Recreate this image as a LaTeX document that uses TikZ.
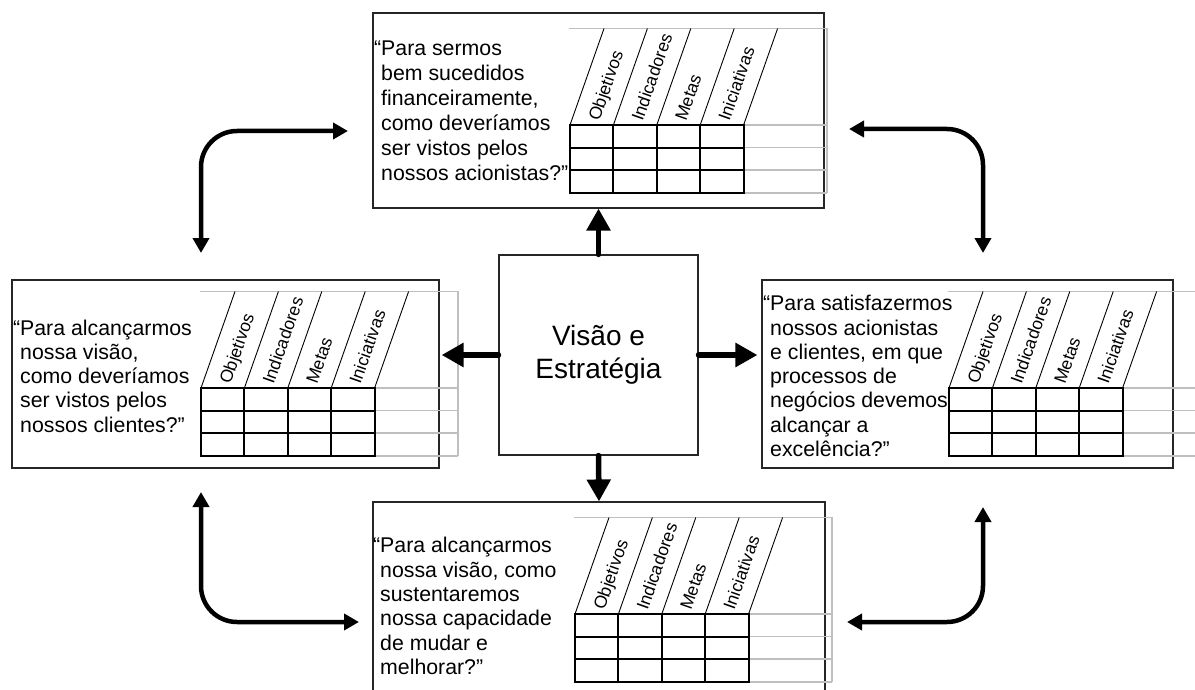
\documentclass[tikz,border=0pt]{standalone}
\usepackage{fontspec}
\setmainfont{Liberation Sans}
\usetikzlibrary{arrows.meta,calc}

\tikzset{
  box/.style={draw=black!85, line width=1.1pt, rectangle, inner sep=0pt},
  qtext/.style={anchor=west, align=left, inner sep=0pt, font=\fontsize{21.3}{24.3}\selectfont},
  hdr/.style={rotate=70.6, anchor=west, inner sep=0pt, text height=12.5pt, text depth=0pt, font=\fontsize{17.5}{19}\selectfont},
  grayline/.style={draw=black!25, line width=1.6pt},
  gridline/.style={draw=black, line width=2pt},
  slant/.style={draw=black, line width=0.9pt},
  bigarrow/.style={line width=5.5pt, line cap=round, -{Triangle[width=23pt,length=22pt]}},
  cornerarrow/.style={line width=4.5pt, rounded corners=36pt, {Triangle[width=16pt,length=15pt]}-{Triangle[width=16pt,length=15pt]}},
}

% #1 = grid left x, #2 = grid top y, #3 = name prefix
\newcommand\bsctab[3]{%
  \draw[grayline] ({#1-1},{#2-96.5}) -- ({#1+257},{#2-96.5}) -- ({#1+257},{#2+67.8});
  \foreach \r in {0,1,2,3} \draw[grayline] ({#1+173.6},{#2+\r*22.6}) -- ({#1+257},{#2+\r*22.6});
  \foreach \c in {0,...,4} \draw[slant] ({#1+\c*43.4},{#2}) -- ({#1+\c*43.4+34},{#2-96.5});
  \foreach \c in {1,2,3} \draw[gridline] ({#1+\c*43.4},{#2}) -- ({#1+\c*43.4},{#2+67.8});
  \foreach \r in {1,2} \draw[gridline] ({#1},{#2+\r*22.6}) -- ({#1+173.6},{#2+\r*22.6});
  \draw[gridline] (#1,#2) rectangle ({#1+173.6},{#2+67.8});
  \foreach \c/\t in {0/Objetivos,1/Indicadores,2/Metas,3/Iniciativas}
    \node[hdr] (#3\c) at ({#1+\c*43.4+21.7+1.6},{#2-5}) {\t};
}

\begin{document}
\begin{tikzpicture}[x=1pt,y=-1pt]
  \useasboundingbox (0,0) rectangle (1195,690);
  \clip (0,0) rectangle (1195,690);

  % boxes
  \node[box, minimum width=451pt, minimum height=195pt] (top) at (598.5,110.5) {};
  \node[box, minimum width=427pt, minimum height=188pt] (left) at (225.5,374) {};
  \node[box, minimum width=411pt, minimum height=188pt] (right) at (967.5,374) {};
  \node[box, minimum width=452pt, minimum height=236pt] (bottom) at (599,620) {};
  \node[box, minimum width=199pt, minimum height=200pt, align=center,
        font=\fontsize{28}{33}\selectfont] (center) at (598.5,355) {Visão e\\Estratégia};

  % tables
  \bsctab{570}{125}{ht}
  \bsctab{201}{388}{hl}
  \bsctab{949}{388}{hr}
  \bsctab{575}{614}{hb}

  % texts
  \node[qtext, font=\fontsize{21.3}{25}\selectfont] (ttop) at (381,111) {\llap{“}Para sermos\\bem sucedidos\\financeiramente,\\como deveríamos\\ser vistos pelos\\nossos acionistas?”};
  \node[qtext] (tleft) at (20,376) {\llap{“}Para alcançarmos\\nossa visão,\\como deveríamos\\ser vistos pelos\\nossos clientes?”};
  \node[qtext] (tright) at (770,376) {\llap{“}Para satisfazermos\\nossos acionistas\\e clientes, em que\\processos de\\negócios devemos\\alcançar a\\excelência?”};
  \node[qtext] (tbottom) at (380,606) {\llap{“}Para alcançarmos\\nossa visão, como\\sustentaremos\\nossa capacidade\\de mudar e\\melhorar?”};

  % center arrows
  \draw[bigarrow] (center.north) -- (top.south);
  \draw[bigarrow] (center.west) -- ([xshift=2pt]center.west -| left.east);
  \draw[bigarrow] (center.east) -- ([xshift=-4pt]center.east -| right.west);
  \draw[bigarrow] (center.south) -- (bottom.north);

  % corner arrows
  \coordinate (tla) at (201,253);
  \coordinate (tlb) at (348,131);
  \coordinate (tra) at (849,129);
  \coordinate (trb) at (983,253);
  \coordinate (bla) at (201,492);
  \coordinate (blb) at (359,622);
  \coordinate (bra) at (847,622);
  \coordinate (brb) at (983,507);
  \draw[cornerarrow] (tla) |- (tlb);
  \draw[cornerarrow] (tra) -| (trb);
  \draw[cornerarrow] (bla) |- (blb);
  \draw[cornerarrow] (bra) -| (brb);
\end{tikzpicture}
\end{document}
